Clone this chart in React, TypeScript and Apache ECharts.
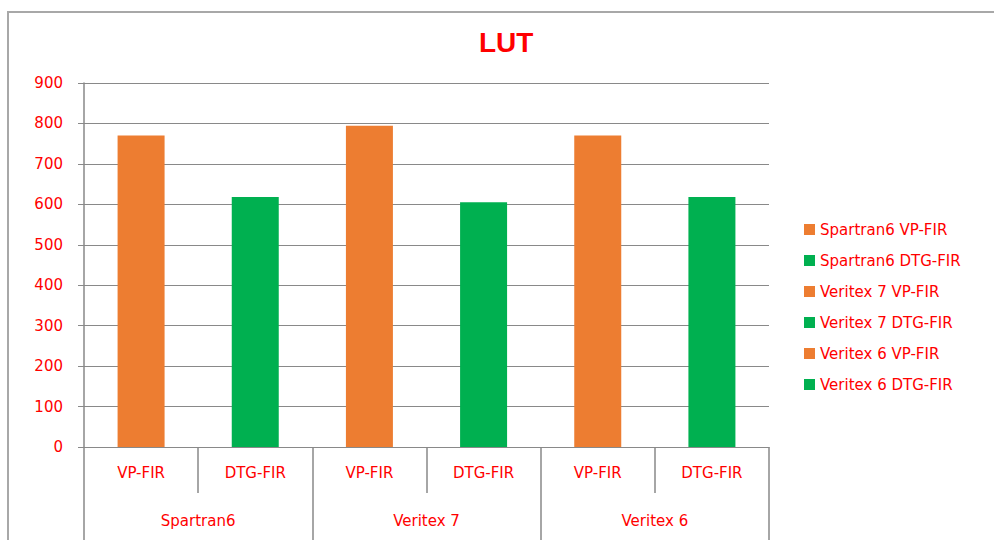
import React, { useEffect, useRef } from "react";
import * as echarts from "echarts";

const innerCategories = ["VP-FIR", "DTG-FIR", "VP-FIR", "DTG-FIR", "VP-FIR", "DTG-FIR"];
const outerCategories = ["Spartran6", "Veritex 7", "Veritex 6"];
const seriesNames = [
  "Spartran6 VP-FIR",
  "Spartran6 DTG-FIR",
  "Veritex 7 VP-FIR",
  "Veritex 7 DTG-FIR",
  "Veritex 6 VP-FIR",
  "Veritex 6 DTG-FIR",
];
const seriesValues = [770, 618, 794, 605, 770, 618];
const seriesColors = ["#ED7D31", "#00B050", "#ED7D31", "#00B050", "#ED7D31", "#00B050"];

const RED = "#FF0000";
const GRAY = "#898989";
const FONT = "DejaVu Sans";

export default function App() {
  const ref = useRef<HTMLDivElement>(null);
  useEffect(() => {
    if (!ref.current) return;
    const chart = echarts.init(ref.current, undefined, { renderer: "svg" });
    const series = seriesNames.map((name, i) => ({
      name,
      type: "bar",
      stack: "all",
      barWidth: 47,
      xAxisIndex: 0,
      itemStyle: { color: seriesColors[i] },
      data: innerCategories.map((_, j) => (j === i ? seriesValues[i] : null)),
    }));
    chart.setOption({
      animation: false,
      backgroundColor: "#ffffff",
      title: {
        text: "LUT",
        left: 479,
        top: 28,
        padding: 0,
        textStyle: { color: RED, fontFamily: "Liberation Sans", fontWeight: "bold", fontSize: 28 },
      },
      graphic: [
        {
          type: "rect",
          shape: { x: 8, y: 12, width: 1100, height: 700 },
          style: { fill: "none", stroke: "#a8a8a8", lineWidth: 2 },
          silent: true,
        },
      ],
      legend: {
        orient: "vertical",
        left: 804,
        top: 222,
        itemWidth: 11,
        itemHeight: 11,
        itemGap: 16,
        itemStyle: { borderWidth: 0 },
        icon: "rect",
        padding: 0,
        textStyle: { color: RED, fontFamily: FONT, fontSize: 15, padding: [0, 0, 0, 0] },
        data: seriesNames,
      },
      grid: { left: 84, right: 225, top: 83, bottom: 93 },
      xAxis: [
        {
          type: "category",
          data: innerCategories,
          position: "bottom",
          axisLine: { show: true, lineStyle: { color: GRAY, width: 1 } },
          axisTick: { show: true, length: 46, lineStyle: { color: GRAY, width: 1.5 } },
          axisLabel: { color: RED, fontFamily: FONT, fontSize: 15, margin: 18 },
        },
        {
          type: "category",
          data: outerCategories,
          position: "bottom",
          offset: 46,
          axisLine: { show: false },
          axisTick: { show: true, length: 80, lineStyle: { color: GRAY, width: 1.5 } },
          axisLabel: { color: RED, fontFamily: FONT, fontSize: 15, margin: 20 },
        },
      ],
      yAxis: {
        type: "value",
        min: 0,
        max: 900,
        interval: 100,
        axisLine: { show: true, lineStyle: { color: GRAY, width: 1.5 } },
        axisTick: { show: true, length: 6, lineStyle: { color: GRAY, width: 1 } },
        axisLabel: { color: RED, fontFamily: FONT, fontSize: 15, margin: 21 },
        splitLine: { show: true, lineStyle: { color: GRAY, width: 1 } },
      },
      series,
    });
    return () => chart.dispose();
  }, []);
  return (
    <div
      ref={ref}
      style={{ position: "fixed", left: 0, top: 0, width: 994, height: 540, background: "#fff" }}
    />
  );
}
